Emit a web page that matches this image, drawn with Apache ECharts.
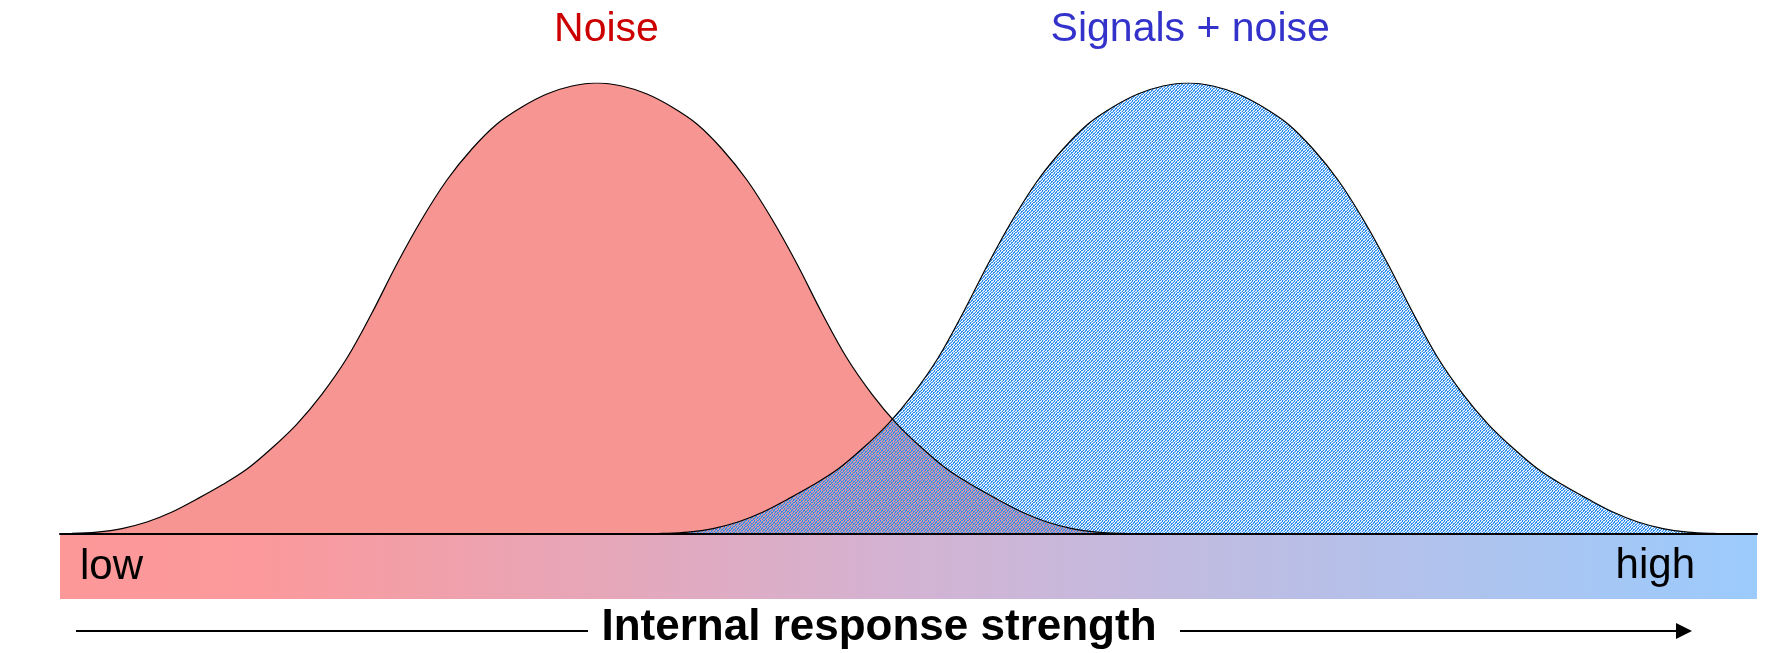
<!DOCTYPE html>
<html><head><meta charset="utf-8">
<script src="https://cdn.jsdelivr.net/npm/echarts@6/dist/echarts.min.js"></script>
<style>html,body{margin:0;padding:0;background:#fff}#c{width:1777px;height:653px}</style>
</head><body><div id="c"></div>
<script>
// Response strength (0 = low end of bar, 100 = high end) and relative height (peak = 100)
const noiseX = [0.70, 2.18, 3.65, 5.12, 6.60, 8.07, 9.54, 11.02, 12.49, 13.96, 15.44, 16.91, 18.38, 19.85, 21.33, 22.80, 24.27, 25.75, 27.22, 28.69, 30.17,
  31.64, 33.11, 34.59, 36.06, 37.53, 39.01, 40.48, 41.95, 43.43, 44.90, 46.37, 47.84, 49.32, 50.79, 52.26, 53.74, 55.21, 56.68, 58.16, 59.63, 61.10, 62.57, 64.05];
const noiseY = [0.13, 0.44, 1.22, 2.66, 4.88, 7.76, 10.86, 14.41, 19.07, 24.39, 31.04, 39.02, 49.00, 59.87, 69.84, 78.49, 85.37, 90.91, 94.68, 97.56, 99.33,
  100, 99.33, 97.56, 94.68, 90.91, 85.37, 78.49, 69.84, 59.87, 49.00, 39.02, 31.04, 24.39, 19.07, 14.41, 10.86, 7.76, 4.88, 2.66, 1.22, 0.44, 0.13, 0];
const signalX = [34.06, 35.53, 37.01, 38.48, 39.95, 41.43, 42.90, 44.37, 45.85, 47.32, 48.79, 50.27, 51.74, 53.21, 54.69, 56.16, 57.63, 59.11, 60.58, 62.05, 63.52, 65.00,
  66.47, 67.94, 69.42, 70.89, 72.36, 73.84, 75.31, 76.78, 78.25, 79.73, 81.20, 82.67, 84.15, 85.62, 87.09, 88.57, 90.04, 91.51, 92.98, 94.46, 95.93, 97.40, 98.88];
const signalY = [0, 0.13, 0.44, 1.22, 2.66, 4.88, 7.76, 10.86, 14.41, 19.07, 24.39, 31.04, 39.02, 49.00, 59.87, 69.84, 78.49, 85.37, 90.91, 94.68, 97.56, 99.33,
  100, 99.33, 97.56, 94.68, 90.91, 85.37, 78.49, 69.84, 59.87, 49.00, 39.02, 31.04, 24.39, 19.07, 14.41, 10.86, 7.76, 4.88, 2.66, 1.22, 0.44, 0.13, 0];
const seriesNames = ['Noise', 'Signals + noise'];
const titleAnchors = [[32.2, 100], [66.6, 100]];
const endLabels = ['low', 'high'];
const axisTitle = 'Internal response strength';

function pairs(xs, ys) { return xs.map((x, i) => [x, ys[i]]); }

// dotted blue texture (transparent holes let the red show through in the overlap)
const tile = document.createElement('canvas');
tile.width = 6; tile.height = 6;
const tctx = tile.getContext('2d');
const rows = ['B.LB.B', '.BB.LB', 'LB.BB.', 'B.LB.L', '.BB.BL', 'BL.LB.'];
rows.forEach((r, y) => {
  for (let x = 0; x < r.length; x++) {
    const ch = r[x];
    if (ch === '.') continue;
    tctx.fillStyle = ch === 'B' ? 'rgb(45,142,240)' : 'rgba(90,165,250,0.5)';
    tctx.fillRect(x, y, 1, 1);
  }
});

const chart = echarts.init(document.getElementById('c'), null, { renderer: 'canvas' });
const font = '"Liberation Sans", Arial, sans-serif';
chart.setOption({
  animation: false,
  backgroundColor: '#fff',
  grid: { left: 60, right: 20, top: 83, bottom: 54 },
  xAxis: {
    type: 'value', min: 0, max: 100, z: 10,
    axisLine: { show: true, onZero: true, lineStyle: { color: '#000', width: 2 } },
    axisTick: { show: false }, axisLabel: { show: false }, splitLine: { show: false }
  },
  yAxis: { type: 'value', min: -14.4, max: 100, show: false, splitLine: { show: false } },
  series: [
    {
      name: seriesNames[0], type: 'line', data: pairs(noiseX, noiseY), smooth: 0.35,
      showSymbol: false, lineStyle: { width: 0 }, areaStyle: { color: '#f69592', opacity: 1 }, z: 2,
      markArea: {
        silent: true,
        itemStyle: { color: new echarts.graphic.LinearGradient(0, 0, 1, 0, [
          { offset: 0, color: '#fd9899' }, { offset: 0.12, color: '#fb999c' }, { offset: 0.5, color: '#d3b3d3' }, { offset: 1, color: '#9bcbfc' }]) },
        data: [[{ coord: [0, -14.4] }, { coord: [100, 0] }]]
      },
      markPoint: {
        symbol: 'circle', symbolSize: 1, itemStyle: { color: 'rgba(0,0,0,0)' },
        label: { show: true, position: 'inside', offset: [0, -53], formatter: seriesNames[0],
          color: '#cc0000', fontSize: 41, fontFamily: font },
        data: [{ coord: titleAnchors[0] }]
      }
    },
    {
      name: seriesNames[1], type: 'line', data: pairs(signalX, signalY), smooth: 0.35,
      showSymbol: false, lineStyle: { width: 1.2, color: '#000' },
      areaStyle: { color: { image: tile, repeat: 'repeat' }, opacity: 1 }, z: 3,
      markPoint: {
        symbol: 'circle', symbolSize: 1, itemStyle: { color: 'rgba(0,0,0,0)' },
        label: { show: true, position: 'inside', offset: [0, -53], formatter: seriesNames[1],
          color: '#3333cc', fontSize: 41, fontFamily: font },
        data: [{ coord: titleAnchors[1] }]
      }
    },
    {
      name: seriesNames[0] + ' outline', type: 'line', data: pairs(noiseX, noiseY), smooth: 0.35,
      showSymbol: false, lineStyle: { width: 1.2, color: '#000' }, z: 4
    }
  ],
  graphic: [
    { type: 'line', z: 100, shape: { x1: 76, y1: 631, x2: 588, y2: 631 }, style: { stroke: '#000', lineWidth: 2 } },
    { type: 'line', z: 100, shape: { x1: 1180, y1: 631, x2: 1678, y2: 631 }, style: { stroke: '#000', lineWidth: 2 } },
    { type: 'polygon', z: 100, shape: { points: [[1676, 623], [1692, 631], [1676, 639]] }, style: { fill: '#000' } },
    { type: 'text', z: 100, x: 879, y: 628, style: { text: axisTitle, fontSize: 44, fontWeight: 'bold', fontFamily: font,
      fill: '#000', align: 'center', verticalAlign: 'middle' } },
    { type: 'text', z: 100, x: 80, y: 567, style: { text: endLabels[0], fontSize: 42, fontFamily: font,
      fill: '#000', align: 'left', verticalAlign: 'middle' } },
    { type: 'text', z: 100, x: 1695, y: 566, style: { text: endLabels[1], fontSize: 42, fontFamily: font,
      fill: '#000', align: 'right', verticalAlign: 'middle' } }
  ]
});
</script></body></html>
